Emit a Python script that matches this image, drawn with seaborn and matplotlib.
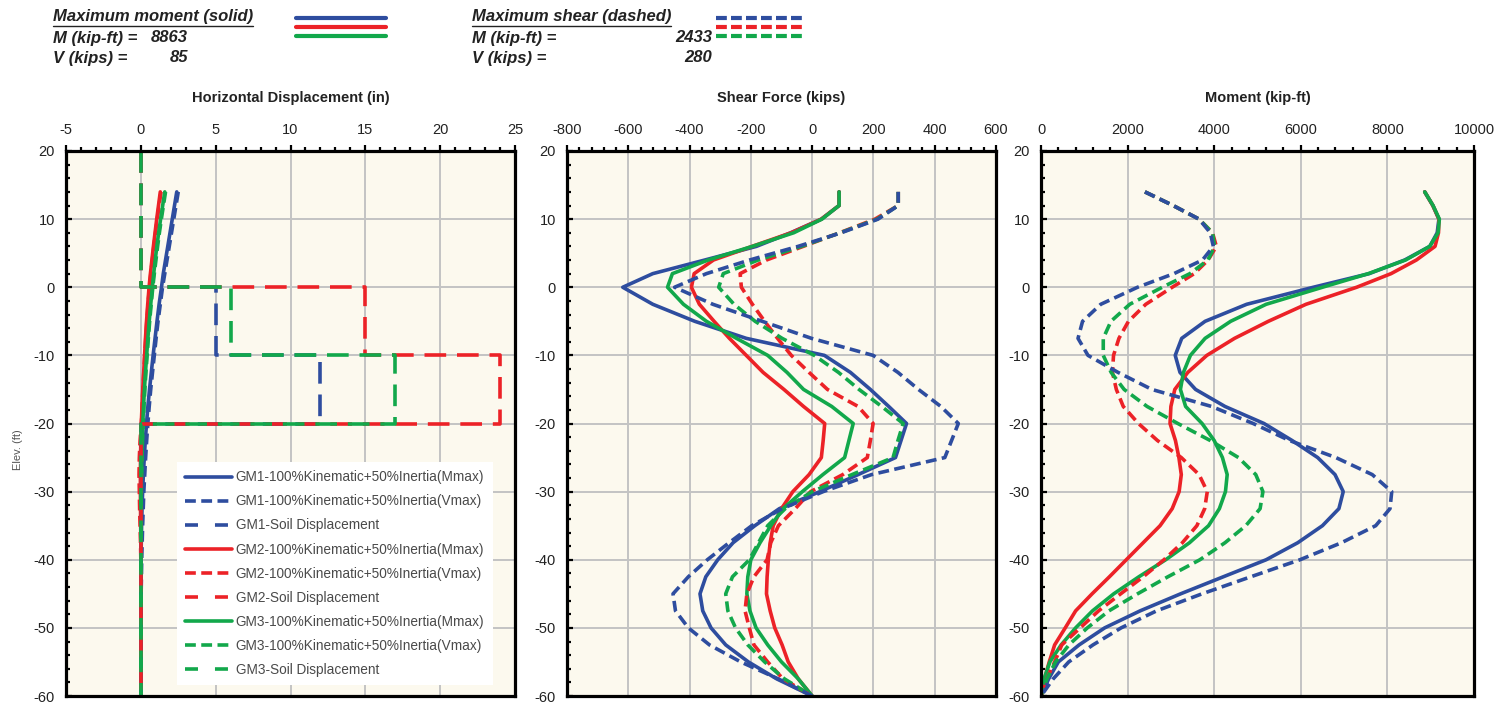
"""Pile response profiles: displacement, shear and moment vs elevation."""
import matplotlib
matplotlib.use("Agg")
import matplotlib.pyplot as plt
from matplotlib.lines import Line2D
from matplotlib.ticker import MultipleLocator
import seaborn as sns

# ---- data ----
ELEV = [14, 12, 10, 8, 6, 4, 2, 0, -2.5, -5, -7.5, -10, -12.5, -15, -17.5, -20,
        -22.5, -25, -27.5, -30, -32.5, -35, -37.5, -40, -42.5, -45, -47.5, -50,
        -52.5, -55, -57.5, -60]

DISP_GM1_M = [2.40, 2.25, 2.10, 1.95, 1.80, 1.65, 1.50, 1.38, 1.22, 1.08, 0.95, 0.82, 0.70, 0.58, 0.47, 0.38,
              0.30, 0.23, 0.17, 0.12, 0.08, 0.05, 0.03, 0.01, 0, 0, 0, 0, 0, 0, 0, 0]
DISP_GM1_V = [2.50, 2.35, 2.20, 2.05, 1.90, 1.75, 1.60, 1.45, 1.30, 1.15, 1.02, 0.90, 0.78, 0.66, 0.56, 0.47,
              0.39, 0.32, 0.26, 0.20, 0.16, 0.12, 0.09, 0.06, 0.04, 0.02, 0.01, 0, 0, 0, 0, 0]
DISP_GM2_M = [1.30, 1.18, 1.06, 0.95, 0.84, 0.74, 0.64, 0.55, 0.46, 0.38, 0.31, 0.25, 0.19, 0.13, 0.08, 0.03,
              0.0, -0.02, -0.03, -0.03, -0.02, -0.01, 0, 0, 0, 0, 0, 0, 0, 0, 0, 0]
DISP_GM2_V = [1.35, 1.22, 1.10, 0.98, 0.87, 0.77, 0.67, 0.58, 0.48, 0.40, 0.33, 0.26, 0.20, 0.14, 0.09, 0.04,
              -0.05, -0.10, -0.12, -0.10, -0.08, -0.05, -0.02, 0, 0, 0, 0, 0, 0, 0, 0, 0]
DISP_GM3_M = [1.60, 1.46, 1.32, 1.19, 1.07, 0.96, 0.86, 0.77, 0.66, 0.56, 0.47, 0.39, 0.31, 0.24, 0.18, 0.13,
              0.09, 0.06, 0.04, 0.02, 0.01, 0, 0, 0, 0, 0, 0, 0, 0, 0, 0, 0]
DISP_GM3_V = [1.65, 1.51, 1.37, 1.24, 1.12, 1.01, 0.90, 0.80, 0.69, 0.59, 0.50, 0.42, 0.34, 0.27, 0.21, 0.16,
              0.11, 0.08, 0.05, 0.03, 0.02, 0.01, 0, 0, 0, 0, 0, 0, 0, 0, 0, 0]

SOIL_ELEV = [20, 0, 0, -10, -10, -20, -20, -60]
SOIL_GM1 = [0, 0, 5, 5, 12, 12, 0, 0]
SOIL_GM2 = [0, 0, 15, 15, 24, 24, 0, 0]
SOIL_GM3 = [0, 0, 6, 6, 17, 17, 0, 0]

SHEAR_GM1_M = [88, 88, 30, -70, -182, -350, -520, -618, -520, -383, -215, 40, 125, 190, 250, 308,
               290, 272, 150, 25, -107, -187, -258, -308, -347, -366, -357, -330, -282, -208, -115, 0]
SHEAR_GM2_M = [88, 88, 30, -68, -196, -322, -385, -394, -368, -320, -270, -215, -160, -92, -28, 41,
               36, 30, -10, -63, -100, -127, -137, -143, -147, -149, -137, -122, -98, -78, -45, 0]
SHEAR_GM3_M = [88, 88, 32, -60, -195, -339, -456, -472, -420, -345, -247, -145, -82, -28, 64, 134,
               120, 106, 35, -32, -95, -135, -170, -200, -210, -213, -203, -183, -145, -100, -45, 0]
SHEAR_GM1_V = [281, 281, 215, 95, -46, -204, -345, -449, -324, -163, -2, 199, 280, 347, 420, 477,
               455, 433, 194, 36, -98, -197, -271, -342, -404, -454, -446, -404, -335, -233, -110, 0]
SHEAR_GM2_V = [281, 281, 205, 90, -29, -149, -235, -231, -195, -155, -113, -68, -10, 50, 150, 199,
               190, 180, 100, -5, -55, -110, -135, -147, -190, -213, -219, -205, -190, -145, -95, 0]
SHEAR_GM3_V = [281, 281, 212, 92, -35, -176, -290, -305, -255, -186, -98, 7, 86, 153, 227, 297,
               280, 264, 130, 0, -88, -145, -175, -205, -260, -282, -275, -250, -210, -155, -90, 0]

MOM_GM1_M = [8862, 9050, 9190, 9150, 8980, 8400, 7580, 6290, 4750, 3790, 3250, 3100, 3210, 3570, 4250, 5150,
             5800, 6390, 6790, 6980, 6880, 6500, 5930, 5200, 4210, 3225, 2290, 1470, 880, 400, 175, 0]
MOM_GM2_M = [8862, 9050, 9190, 9180, 9100, 8670, 8085, 7290, 6120, 5250, 4470, 3830, 3390, 3090, 3000, 2980,
             3105, 3185, 3240, 3190, 3030, 2750, 2360, 1970, 1580, 1180, 800, 560, 315, 190, 80, 0]
MOM_GM3_M = [8862, 9054, 9200, 9170, 8977, 8420, 7560, 6500, 5200, 4380, 3790, 3450, 3290, 3220, 3340, 3720,
             4000, 4190, 4300, 4260, 4120, 3870, 3430, 2880, 2260, 1680, 1190, 800, 465, 205, 70, 0]
MOM_GM1_V = [2400, 3050, 3650, 3910, 3980, 3730, 3070, 2230, 1380, 960, 855, 1085, 1780, 2560, 3940, 4900,
             5740, 6810, 7650, 8100, 8060, 7730, 6940, 5980, 4845, 3720, 2670, 1850, 1200, 640, 280, 0]
MOM_GM2_V = [2400, 3050, 3650, 3960, 4050, 3860, 3540, 3030, 2420, 2020, 1800, 1675, 1650, 1740, 1900, 2250,
             2690, 3240, 3650, 3840, 3780, 3600, 3265, 2840, 2360, 1840, 1330, 905, 480, 315, 130, 0]
MOM_GM3_V = [2400, 3050, 3650, 3960, 4010, 3855, 3440, 2800, 2050, 1615, 1438, 1438, 1620, 1920, 2450, 3160,
             3910, 4560, 4960, 5125, 5060, 4730, 4250, 3670, 2930, 2230, 1570, 1070, 645, 335, 135, 0]

MAX_M_SOLID, MAX_V_SOLID = 8863, 85
MAX_M_DASHED, MAX_V_DASHED = 2433, 280

GMS = ["GM1", "GM2", "GM3"]
COLORS = {"GM1": "#2e4d9f", "GM2": "#ec2227", "GM3": "#12a84b"}
LS_V = (0, (3, 1.5))
LS_SOIL = (0, (6, 3))
LW = 2.6

sns.set_theme(style="whitegrid")
plt.rcParams["font.family"] = ["Liberation Sans", "DejaVu Sans"]
plt.rcParams["axes.unicode_minus"] = False


def curve(ax, x, y, gm, ls):
    sns.lineplot(x=x, y=y, sort=False, estimator=None, color=COLORS[gm], linestyle=ls,
                 lw=LW, ax=ax, legend=False)


def style_axes(ax, xlim, xmajor, xminor, title):
    ax.set_facecolor("#fcf9ee")
    ax.set_xlim(*xlim)
    ax.set_ylim(-60, 20)
    ax.xaxis.set_major_locator(MultipleLocator(xmajor))
    ax.xaxis.set_minor_locator(MultipleLocator(xminor))
    ax.yaxis.set_major_locator(MultipleLocator(10))
    ax.yaxis.set_minor_locator(MultipleLocator(2))
    ax.grid(True, which="major", color="#c3c3c3", lw=1.4)
    ax.grid(False, which="minor")
    ax.set_axisbelow(True)
    for s in ax.spines.values():
        s.set_visible(True)
        s.set_color("black")
        s.set_linewidth(2.3)
    ax.tick_params(axis="x", which="both", top=True, bottom=False, labeltop=True,
                   labelbottom=False, direction="out", color="black")
    ax.tick_params(axis="x", which="major", length=4, width=1.6, pad=6,
                   labelsize=10.5, labelcolor="#222222")
    ax.tick_params(axis="x", which="minor", length=3, width=1.6)
    ax.tick_params(axis="y", which="both", left=True, right=False, direction="in", color="black")
    ax.tick_params(axis="y", which="major", length=4, width=1.6, pad=8,
                   labelsize=10.5, labelcolor="#222222")
    ax.tick_params(axis="y", which="minor", length=3, width=1.6)
    ax.set_xlabel("")
    ax.set_ylabel("")
    ax.text(0.5, 1.097, title, transform=ax.transAxes, ha="center", va="center",
            fontsize=10.5, fontweight="bold", color="#222222")


def main():
    W, H = 1507, 715
    fig = plt.figure(figsize=(W / 100, H / 100), dpi=100)
    fig.patch.set_facecolor("white")
    bottom, top = 1 - 696 / H, 1 - 151 / H
    ax_d = fig.add_axes([66 / W, bottom, 449 / W, top - bottom])
    ax_s = fig.add_axes([567 / W, bottom, 429 / W, top - bottom])
    ax_m = fig.add_axes([1041 / W, bottom, 433 / W, top - bottom])

    disp = {"GM1": (DISP_GM1_M, DISP_GM1_V, SOIL_GM1), "GM2": (DISP_GM2_M, DISP_GM2_V, SOIL_GM2),
            "GM3": (DISP_GM3_M, DISP_GM3_V, SOIL_GM3)}
    shear = {"GM1": (SHEAR_GM1_M, SHEAR_GM1_V), "GM2": (SHEAR_GM2_M, SHEAR_GM2_V),
             "GM3": (SHEAR_GM3_M, SHEAR_GM3_V)}
    mom = {"GM1": (MOM_GM1_M, MOM_GM1_V), "GM2": (MOM_GM2_M, MOM_GM2_V),
           "GM3": (MOM_GM3_M, MOM_GM3_V)}

    # displacement panel
    for gm in GMS:
        curve(ax_d, disp[gm][0], ELEV, gm, "-")
        curve(ax_d, disp[gm][1], ELEV, gm, LS_V)
    for gm in GMS:
        curve(ax_d, disp[gm][2], SOIL_ELEV, gm, LS_SOIL)

    # shear and moment panels: solids first, dashed after (blue dashed on top)
    for ax, data in ((ax_s, shear), (ax_m, mom)):
        for gm in GMS:
            curve(ax, data[gm][0], ELEV, gm, "-")
        for gm in ["GM2", "GM3", "GM1"]:
            curve(ax, data[gm][1], ELEV, gm, LS_V)

    style_axes(ax_d, (-5, 25), 5, 1, "Horizontal Displacement (in)")
    style_axes(ax_s, (-800, 600), 200, 40, "Shear Force (kips)")
    style_axes(ax_m, (0, 10000), 2000, 400, "Moment (kip-ft)")

    # legend
    handles, labels = [], []
    for gm in GMS:
        for ls, tag in (("-", "100%Kinematic+50%Inertia(Mmax)"),
                        (LS_V, "100%Kinematic+50%Inertia(Vmax)"),
                        ((0, (3.6, 4.7)), "Soil Displacement")):
            handles.append(Line2D([], [], color=COLORS[gm], lw=LW, linestyle=ls))
            labels.append(f"{gm}-{tag}")
    leg = ax_d.legend(handles, labels, loc="lower right", bbox_to_anchor=(0.95, 0.02),
                      borderaxespad=0, frameon=True, framealpha=1, facecolor="white",
                      edgecolor="white", fancybox=False, fontsize=9.8, handlelength=3.4,
                      labelspacing=0.74, handletextpad=0.3, borderpad=0.6)
    leg.get_frame().set_linewidth(0)
    for t in leg.get_texts():
        t.set_color("#4a4a4a")

    fig.text(18 / W, 1 - 450 / H, "Elev. (ft)", rotation=90, ha="center", va="center",
             fontsize=8, color="#555555")

    # header block
    hfont = dict(family=["Liberation Sans", "DejaVu Sans"],
                 fontweight="bold", fontstyle="italic", fontsize=12, color="#222222")
    heads = []
    for x0, xnum, head, m, v in ((53, 188, "Maximum moment (solid)", MAX_M_SOLID, MAX_V_SOLID),
                                 (472, 712, "Maximum shear (dashed)", MAX_M_DASHED, MAX_V_DASHED)):
        heads.append(fig.text(x0 / W, 1 - 17 / H, head, ha="left", va="center", **hfont))
        fig.text(x0 / W, 1 - 38 / H, "M (kip-ft) =", ha="left", va="center", **hfont)
        fig.text(xnum / W, 1 - 38 / H, f"{m}", ha="right", va="center", **hfont)
        fig.text(x0 / W, 1 - 58 / H, "V (kips) =", ha="left", va="center", **hfont)
        fig.text(xnum / W, 1 - 58 / H, f"{v}", ha="right", va="center", **hfont)

    fig.canvas.draw()
    for t in heads:
        bb = t.get_window_extent()
        fig.add_artist(Line2D([bb.x0 / W, bb.x1 / W], [(bb.y0 - 1) / H] * 2,
                              color="#222222", lw=1.0, transform=fig.transFigure))

    for xa, xb, ls in ((296, 386, "-"), (716, 806, (0, (2.6, 1)))):
        for i, gm in enumerate(GMS):
            yy = 1 - (18 + 9 * i) / H
            fig.add_artist(Line2D([xa / W, xb / W], [yy, yy], color=COLORS[gm], lw=3.0,
                                  linestyle=ls, transform=fig.transFigure))

    fig.savefig("out.png", dpi=100)
    plt.close(fig)


if __name__ == "__main__":
    main()
